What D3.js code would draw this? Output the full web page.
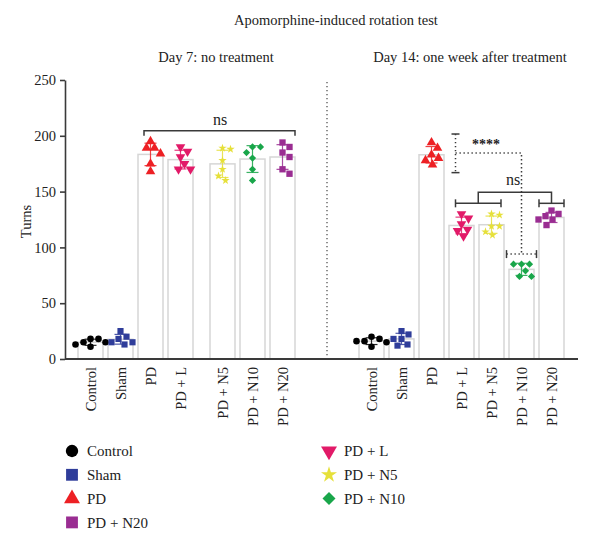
<!DOCTYPE html>
<html>
<head>
<meta charset="utf-8">
<script src="https://cdn.jsdelivr.net/npm/d3@7"></script>
<style>
  body { margin: 0; background: #fff; }
  svg text { font-family: "Liberation Serif", "Times New Roman", serif; fill: #222; }
</style>
</head>
<body>
<div id="chart"></div>
<script>
const groups = ["Control", "Sham", "PD", "PD + L", "PD + N5", "PD + N10", "PD + N20"];
const groupColors = ["#000000", "#2f3d9a", "#ed2024", "#e21a68", "#e6e03a", "#19a64a", "#9a2d92"];

// turns per animal, one row per group
const day7Turns = [
  [13, 18, 15, 15, 18, 11],
  [20, 25, 18, 13, 15, 15],
  [189, 195, 189, 184, 175, 168],
  [190, 186, 181, 175, 170, 170],
  [188, 189, 178, 170, 164, 160],
  [190, 190, 185, 180, 170, 160],
  [194, 190, 185, 181, 170, 166],
];
const day14Turns = [
  [15, 18, 16, 16, 20, 11],
  [22, 25, 18, 12, 13, 18],
  [189, 194, 183, 180, 178, 174],
  [130, 126, 121, 116, 115, 110],
  [130, 129, 119, 119, 114, 111],
  [85, 85, 85, 79, 74, 74],
  [133, 130, 128, 125, 125, 120],
];

const yTicks = [0, 50, 100, 150, 200, 250];
const legendLeft = ["Control", "Sham", "PD", "PD + N20"];
const legendRight = ["PD + L", "PD + N5", "PD + N10"];

const W = 600, H = 540;
const AXIS_X = 65, BASE_Y = 359, TOP_Y = 80;
const INK = "#3a3a3a";
const SERIF = '"Liberation Serif", "Times New Roman", serif';

const svg = d3.select("#chart").append("svg").attr("width", W).attr("height", H);

const y = d3.scaleLinear().domain([0, 250]).range([BASE_Y, TOP_Y]);

function bandFor(x0) {
  return d3.scaleBand().domain(groups).range([x0, x0 + 210]).paddingInner(1 / 6).paddingOuter(1 / 12);
}
const xLeft = bandFor(75.5);
const xRight = bandFor(356.5);
const LEFT_GAP = 12; // extra space before PD + N5 in the day 7 panel

const panels = [
  { data: day7Turns, pos: (g) => xLeft(g) + (groups.indexOf(g) >= 4 ? LEFT_GAP : 0) },
  { data: day14Turns, pos: (g) => xRight(g) },
];
const bw = xLeft.bandwidth();

const shapes = [
  { type: d3.symbolCircle, size: 34, rot: 0 },
  { type: d3.symbolSquare, size: 38, rot: 0 },
  { type: d3.symbolTriangle, size: 40, rot: 0 },
  { type: d3.symbolTriangle, size: 40, rot: 180 },
  { type: d3.symbolStar, size: 22, rot: 0 },
  { type: d3.symbolSquare, size: 26, rot: 45 },
  { type: d3.symbolSquare, size: 40, rot: 0 },
];

// small beeswarm: nearest free horizontal offset keeping markers apart
function swarm(values, d) {
  const order = values.map((v, i) => i).sort((a, b) => values[b] - values[a]);
  const placed = [];
  const offs = new Array(values.length).fill(0);
  order.forEach((i, n) => {
    const py = y(values[i]);
    const side = n % 2 ? 1 : -1;
    let o = 0;
    for (let k = 0; k < 40; k++) {
      const cand = [k * side, -k * side].find((c) => placed.every((p) => Math.hypot(p.o - c, p.py - py) >= d));
      if (cand !== undefined) { o = cand; break; }
    }
    offs[i] = o;
    placed.push({ py, o });
  });
  return offs;
}

// titles
svg.append("text").attr("x", 336).attr("y", 25).attr("text-anchor", "middle").style("font-size", "14.5px")
  .text("Apomorphine-induced rotation test");
svg.append("text").attr("x", 216).attr("y", 62).attr("text-anchor", "middle").style("font-size", "14.5px")
  .text("Day 7: no treatment");
svg.append("text").attr("x", 470).attr("y", 62).attr("text-anchor", "middle").style("font-size", "14.5px")
  .text("Day 14: one week after treatment");

// y axis
const yAxis = svg.append("g").attr("transform", `translate(${AXIS_X},0)`)
  .call(d3.axisLeft(y).tickValues(yTicks).tickSize(5).tickSizeOuter(0).tickPadding(4));
yAxis.attr("font-family", null);
yAxis.selectAll("path, line").attr("stroke", INK).attr("stroke-width", 1.6);
yAxis.selectAll("text").style("font-size", "14.5px").style("font-family", SERIF).attr("fill", "#222");

svg.append("text").attr("transform", `translate(31,${(BASE_Y + TOP_Y) / 2 + 2}) rotate(-90)`)
  .attr("text-anchor", "middle").style("font-size", "14.5px").text("Turns");

// panel separator
svg.append("line").attr("x1", 327).attr("x2", 327).attr("y1", 82).attr("y2", BASE_Y)
  .attr("stroke", "#333").attr("stroke-width", 1.1).attr("stroke-dasharray", "1.2,2.8");

panels.forEach((panel) => {
  const stats = panel.data.map((vals) => ({ mean: d3.mean(vals), sd: d3.deviation(vals) }));
  const g = svg.append("g");

  g.selectAll("rect.bar").data(groups).join("rect").attr("class", "bar")
    .attr("x", (d) => panel.pos(d)).attr("width", bw)
    .attr("y", (d, i) => y(stats[i].mean)).attr("height", (d, i) => BASE_Y - y(stats[i].mean))
    .attr("fill", "#fff").attr("stroke", "#d6d6d6").attr("stroke-width", 1.5);

  groups.forEach((grp, i) => {
    const cx = panel.pos(grp) + bw / 2;
    const { mean, sd } = stats[i];
    const eb = g.append("g").attr("stroke", groupColors[i]).attr("stroke-width", 1.2).attr("opacity", 0.85);
    eb.append("line").attr("x1", cx).attr("x2", cx).attr("y1", y(mean + sd)).attr("y2", y(mean - sd));
    [mean + sd, mean - sd].forEach((v) =>
      eb.append("line").attr("x1", cx - 6).attr("x2", cx + 6).attr("y1", y(v)).attr("y2", y(v)));

    const offs = swarm(panel.data[i], 7.5);
    const sh = shapes[i];
    g.append("g").selectAll("path").data(panel.data[i]).join("path")
      .attr("d", d3.symbol().type(sh.type).size(sh.size))
      .attr("transform", (v, k) => `translate(${cx + offs[k]},${y(v)}) rotate(${sh.rot})`)
      .attr("fill", groupColors[i]);
  });

  g.selectAll("text.xl").data(groups).join("text").attr("class", "xl")
    .attr("transform", (d) => `translate(${panel.pos(d) + bw / 2},367) rotate(-90)`)
    .attr("dy", "0.35em").attr("text-anchor", "end").style("font-size", "14.5px").text((d) => d);
});

// baseline across both panels
svg.append("line").attr("x1", AXIS_X).attr("x2", 578).attr("y1", BASE_Y).attr("y2", BASE_Y)
  .attr("stroke", INK).attr("stroke-width", 2);

// significance marks
const L = panels[0].pos, R = panels[1].pos;
const ann = svg.append("g").attr("stroke", INK).attr("stroke-width", 1.5).attr("fill", "none");
const dotted = "1.3,2.7";

function hBracket(x1, x2, v, down = 4) {
  ann.append("path").attr("d", `M${x1},${y(v) + down}V${y(v)}H${x2}V${y(v) + down}`);
}
function capBracket(x1, x2, v, cap, dash) {
  ann.append("line").attr("x1", x1).attr("x2", x2).attr("y1", y(v)).attr("y2", y(v)).attr("stroke-dasharray", dash);
  [x1, x2].forEach((x) => ann.append("line").attr("x1", x).attr("x2", x).attr("y1", y(v) - cap).attr("y2", y(v) + cap));
}

// day 7: ns across PD groups
hBracket(L("PD") + 6, L("PD + N20") + bw, 204.6, 5);
svg.append("text").attr("x", 220).attr("y", 125).attr("text-anchor", "middle").style("font-size", "16px").text("ns");

// day 14: PD vs PD + N10 ****
const px = R("PD + L") + 6.5;
ann.append("line").attr("x1", px).attr("x2", px).attr("y1", y(201.6)).attr("y2", y(167)).attr("stroke-dasharray", dotted);
[201.6, 167].forEach((v) => ann.append("line").attr("x1", px - 4).attr("x2", px + 4).attr("y1", y(v)).attr("y2", y(v)));
const n10x = R("PD + N10") + bw / 2;
ann.append("path").attr("d", `M${px},${y(184.5)}H${n10x}V${y(94)}`).attr("stroke-dasharray", dotted);
capBracket(n10x - 15, n10x + 15, 94, 4, dotted);
svg.append("text").attr("x", 486).attr("y", 149).attr("text-anchor", "middle").style("font-size", "14px")
  .attr("fill", "#555").style("font-weight", "bold").text("****");

// day 14: ns between treated groups
const l1 = R("PD + L") + 6.5, l2 = R("PD + N5") + bw / 2 + 9.5;
const r1 = R("PD + N20"), r2 = R("PD + N20") + bw;
capBracket(l1, l2, 139.5, 4, null);
capBracket(r1, r2, 139.5, 4, null);
ann.append("path").attr("d", `M${(l1 + l2) / 2},${y(139.5)}V${y(149.4)}H${(r1 + r2) / 2}V${y(139.5)}`);
svg.append("text").attr("x", 513).attr("y", 185).attr("text-anchor", "middle").style("font-size", "16px").text("ns");

// legend
const bigShapes = [
  { type: d3.symbolCircle, size: 120, rot: 0 },
  { type: d3.symbolSquare, size: 140, rot: 0 },
  { type: d3.symbolTriangle, size: 110, rot: 0 },
  { type: d3.symbolTriangle, size: 110, rot: 180 },
  { type: d3.symbolStar, size: 80, rot: 0 },
  { type: d3.symbolSquare, size: 85, rot: 45 },
  { type: d3.symbolSquare, size: 140, rot: 0 },
];
[[legendLeft, 72], [legendRight, 329]].forEach(([items, lx]) => {
  const lg = svg.append("g").attr("transform", `translate(${lx},451)`);
  items.forEach((name, k) => {
    const i = groups.indexOf(name);
    const row = lg.append("g").attr("transform", `translate(0,${k * 23.8})`);
    row.append("path").attr("d", d3.symbol().type(bigShapes[i].type).size(bigShapes[i].size))
      .attr("transform", `rotate(${bigShapes[i].rot})`).attr("fill", groupColors[i]);
    row.append("text").attr("x", 15).attr("dy", "0.35em").style("font-size", "15px").text(name);
  });
});
</script>
</body>
</html>
